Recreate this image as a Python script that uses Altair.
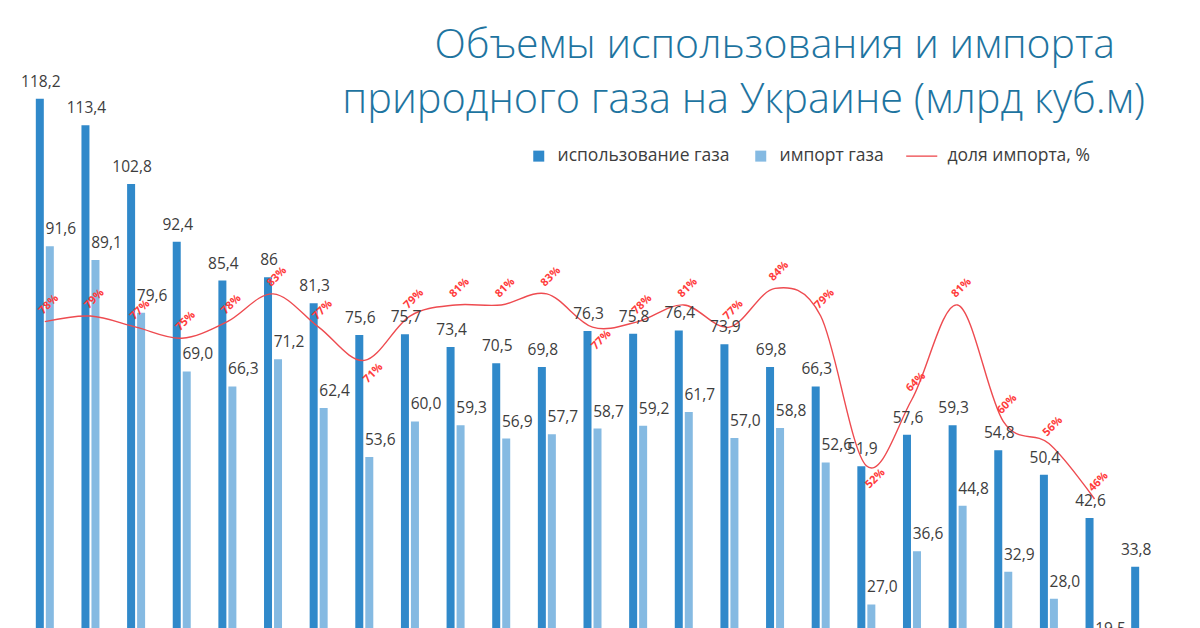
import pandas as pd
import altair as alt

years = ["1991", "1992", "1993", "1994", "1995", "1996", "1997", "1998", "1999", "2000",
         "2001", "2002", "2003", "2004", "2005", "2006", "2007", "2008", "2009", "2010",
         "2011", "2012", "2013", "2014", "2015"]
usage = [118.2, 113.4, 102.8, 92.4, 85.4, 86, 81.3, 75.6, 75.7, 73.4, 70.5, 69.8, 76.3,
         75.8, 76.4, 73.9, 69.8, 66.3, 51.9, 57.6, 59.3, 54.8, 50.4, 42.6, 33.8]
imports = [91.6, 89.1, 79.6, 69.0, 66.3, 71.2, 62.4, 53.6, 60.0, 59.3, 56.9, 57.7, 58.7,
           59.2, 61.7, 57.0, 58.8, 52.6, 27.0, 36.6, 44.8, 32.9, 28.0, 19.5, None]
share = [78, 79, 77, 75, 78, 83, 77, 71, 79, 81, 81, 83, 77, 78, 81, 77, 84, 79, 52, 64,
         81, 60, 56, 46, None]
share_side = ["above", "above", "above", "above", "above", "above", "above", "below",
              "above", "above", "above", "above", "below", "above", "above", "above",
              "above", "above", "below", "above", "above", "above", "above", "above", None]

series_names = ["использование газа", "импорт газа", "доля импорта, %"]
series_colors = ["#3089CA", "#85BAE2", "#EE4B50"]
title_lines = ["Объемы использования и импорта", "природного газа на Украине (млрд куб.м)"]

df = pd.DataFrame({"year": years, "usage": usage, "imports": imports,
                   "share": share, "side": share_side})

FONT = "Open Sans"
LABEL_COLOR = "#3d3d3d"
yscale = alt.Scale(domain=[22.74, 136.0], nice=False, zero=False)
xenc = alt.X("year:N", sort=None, axis=None,
             scale=alt.Scale(paddingInner=0, paddingOuter=0))

base = alt.Chart(df)

usage_bars = base.mark_bar(width=8, xOffset=-5, color=series_colors[0], clip=True).encode(
    x=xenc,
    y=alt.Y("usage:Q", scale=yscale, title=None,
            axis=alt.Axis(values=[40, 60, 80, 100], labels=False, ticks=False, domain=False,
                          grid=True, gridColor="#e6e6e6", gridWidth=1)),
    y2=alt.datum(0),
)

import_bars = base.transform_filter("isValid(datum.imports)").mark_bar(
    width=8, xOffset=5, color=series_colors[1], clip=True).encode(
    x=xenc,
    y=alt.Y("imports:Q", scale=yscale, axis=None),
    y2=alt.datum(0),
)

share_line = base.transform_filter("isValid(datum.share)").mark_line(
    interpolate="cardinal", color=series_colors[2], strokeWidth=1.4).encode(
    x=xenc,
    y=alt.Y("share:Q", scale=yscale, axis=None),
)

usage_labels = base.transform_calculate(
    lbl="replace(toString(datum.usage), '.', ',')"
).mark_text(dx=-4, dy=-12, baseline="alphabetic", align="center", font=FONT,
            fontSize=15.5, color=LABEL_COLOR, clip=True).encode(
    x=xenc, y=alt.Y("usage:Q", scale=yscale, axis=None), text="lbl:N")

import_labels = base.transform_filter("isValid(datum.imports)").transform_calculate(
    lbl="replace(format(datum.imports, '.1f'), '.', ',')"
).mark_text(dx=16, dy=-12, baseline="alphabetic", align="center", font=FONT,
            fontSize=15.5, color=LABEL_COLOR, clip=True).encode(
    x=xenc, y=alt.Y("imports:Q", scale=yscale, axis=None), text="lbl:N")

share_above = base.transform_filter("datum.side == 'above'").transform_calculate(
    lbl="datum.share + '%'"
).mark_text(angle=315, xOffset=4, yOffset=-17, align="center", baseline="middle",
            font=FONT, fontSize=11, fontWeight="bold", color="#FF3C3C").encode(
    x=xenc, y=alt.Y("share:Q", scale=yscale, axis=None), text="lbl:N")

share_below = base.transform_filter("datum.side == 'below'").transform_calculate(
    lbl="datum.share + '%'"
).mark_text(angle=315, xOffset=9, yOffset=13, align="center", baseline="middle",
            font=FONT, fontSize=11, fontWeight="bold", color="#FF3C3C").encode(
    x=xenc, y=alt.Y("share:Q", scale=yscale, axis=None), text="lbl:N")

title1 = alt.Chart(pd.DataFrame({"t": [title_lines[0]]})).mark_text(
    align="right", baseline="alphabetic", font=FONT, fontSize=41, fontWeight=300,
    color="#1E74A0").encode(x=alt.value(1093), y=alt.value(58), text="t:N")
title2 = alt.Chart(pd.DataFrame({"t": [title_lines[1]]})).mark_text(
    align="right", baseline="alphabetic", font=FONT, fontSize=41.5, fontWeight=300,
    color="#1E74A0").encode(x=alt.value(1123), y=alt.value(113), text="t:N")

LINE_PATH = "M -4.1 -0.12 L 1.55 -0.12 L 1.55 0.12 L -4.1 0.12 Z"
legend_props = dict(orient="none", legendX=508, legendY=147, direction="horizontal",
                    columns=3, title=None, labelFont=FONT, labelFontSize=17.5,
                    labelColor=LABEL_COLOR, symbolSize=121, symbolOpacity=1,
                    symbolStrokeWidth=0, labelOffset=10, columnPadding=22, padding=0,
                    labelLimit=400,
                    labelExpr="datum.label == 'импорт газа' ? datum.label + '\u00a0\u00a0\u00a0' : datum.label")
legend_layer = alt.Chart(pd.DataFrame({"series": series_names})).mark_point(
    filled=True, opacity=0).encode(
    color=alt.Color("series:N", scale=alt.Scale(domain=series_names, range=series_colors),
                    legend=alt.Legend(**legend_props)),
    shape=alt.Shape("series:N", scale=alt.Scale(domain=series_names,
                                                range=["square", "square", LINE_PATH]),
                    legend=alt.Legend(**legend_props)),
)

chart = alt.layer(
    usage_bars, import_bars, share_line, usage_labels, import_labels,
    share_above, share_below, title1, title2, legend_layer
).properties(
    width=1141, height=628,
    padding={"left": 22, "top": 0, "right": 37, "bottom": 0},
    autosize="none", background="white"
).configure_view(stroke=None)

chart.save("out.html", embed_options={"renderer": "svg", "actions": False})
